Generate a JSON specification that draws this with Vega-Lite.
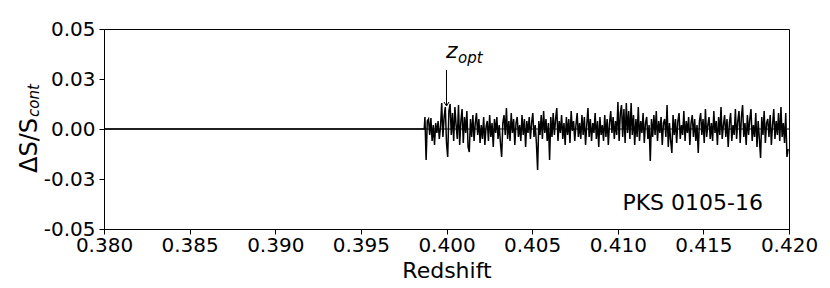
{
  "$schema": "https://vega.github.io/schema/vega-lite/v6.json",
  "width": 685,
  "height": 200,
  "autosize": {"type": "none"},
  "padding": {"left": 104, "top": 29, "right": 41, "bottom": 59},
  "background": "white",
  "config": {
    "view": {"stroke": "black", "strokeWidth": 1},
    "font": "DejaVu Sans",
    "axis": {"grid": false, "domainColor": "black", "tickColor": "black", "labelColor": "black", "titleColor": "black", "labelFont": "DejaVu Sans", "titleFont": "DejaVu Sans", "labelFontSize": 20, "tickSize": 5, "titleFontWeight": "normal", "labelFlush": false, "labelOverlap": false, "labelBound": false}
  },
  "datasets": {
    "spec": [
      {"x":0.38,"y":0},{"x":0.39870,"y":0},
      {"x":0.39874,"y":0.006},{"x":0.39881,"y":-0.0155},{"x":0.39888,"y":0.004},{"x":0.39895,"y":0.005},{"x":0.39902,"y":-0.003},{"x":0.39909,"y":0.0055},{"x":0.39916,"y":-0.006},{"x":0.39923,"y":0.002},{"x":0.39930,"y":-0.008},{"x":0.39937,"y":0.003},
      {"x":0.39944,"y":-0.002},{"x":0.39951,"y":0.004},{"x":0.39958,"y":-0.005},{"x":0.39965,"y":0.001},{"x":0.39972,"y":0.013},{"x":0.39979,"y":-0.004},{"x":0.39986,"y":0.006},{"x":0.39993,"y":0.011},{"x":0.40000,"y":-0.007},{"x":0.40007,"y":-0.014},
      {"x":0.40014,"y":0.009},{"x":0.40021,"y":0.0125},{"x":0.40028,"y":-0.003},{"x":0.40035,"y":0.008},{"x":0.40042,"y":-0.006},{"x":0.40049,"y":0.011},{"x":0.40056,"y":0.002},{"x":0.40063,"y":-0.005},{"x":0.40070,"y":0.012},{"x":0.40077,"y":-0.008},
      {"x":0.40084,"y":0.004},{"x":0.40091,"y":0.010},{"x":0.40098,"y":-0.007},{"x":0.40105,"y":0.006},{"x":0.40112,"y":-0.002},{"x":0.40119,"y":0.009},{"x":0.40126,"y":-0.009},{"x":0.40133,"y":-0.0115},{"x":0.40140,"y":0.005},{"x":0.40147,"y":-0.004},
      {"x":0.40154,"y":0.007},{"x":0.40161,"y":-0.006},{"x":0.40168,"y":0.003},{"x":0.40175,"y":0.008},{"x":0.40182,"y":-0.003},{"x":0.40189,"y":0.005},{"x":0.40196,"y":-0.007},{"x":0.40203,"y":0.002},{"x":0.40210,"y":-0.005},{"x":0.40217,"y":0.006},
      {"x":0.40224,"y":-0.008},{"x":0.40231,"y":0.001},{"x":0.40238,"y":0.004},{"x":0.40245,"y":-0.006},{"x":0.40252,"y":0.007},{"x":0.40259,"y":-0.004},{"x":0.40266,"y":0.003},{"x":0.40273,"y":-0.009},{"x":0.40280,"y":0.005},{"x":0.40287,"y":-0.002},
      {"x":0.40294,"y":0.006},{"x":0.40301,"y":-0.005},{"x":0.40308,"y":0.002},{"x":0.40315,"y":-0.007},{"x":0.40322,"y":-0.014},{"x":0.40329,"y":0.003},{"x":0.40336,"y":0.007},{"x":0.40343,"y":-0.003},{"x":0.40350,"y":0.0105},{"x":0.40357,"y":-0.005},
      {"x":0.40364,"y":0.004},{"x":0.40371,"y":-0.006},{"x":0.40378,"y":0.008},{"x":0.40385,"y":-0.002},{"x":0.40392,"y":0.005},{"x":0.40399,"y":-0.008},{"x":0.40406,"y":0.003},{"x":0.40413,"y":0.006},{"x":0.40420,"y":-0.004},{"x":0.40427,"y":0.002},
      {"x":0.40434,"y":-0.006},{"x":0.40441,"y":0.007},{"x":0.40448,"y":-0.003},{"x":0.40455,"y":0.005},{"x":0.40462,"y":-0.009},{"x":0.40469,"y":0.004},{"x":0.40476,"y":-0.002},{"x":0.40483,"y":0.006},{"x":0.40490,"y":-0.005},{"x":0.40497,"y":0.003},
      {"x":0.40504,"y":0.008},{"x":0.40511,"y":-0.004},{"x":0.40518,"y":0.002},{"x":0.40525,"y":-0.007},{"x":0.40532,"y":-0.0205},{"x":0.40539,"y":0.004},{"x":0.40546,"y":-0.003},{"x":0.40553,"y":0.007},{"x":0.40560,"y":-0.005},{"x":0.40567,"y":0.009},
      {"x":0.40574,"y":-0.002},{"x":0.40581,"y":0.005},{"x":0.40588,"y":-0.006},{"x":0.40595,"y":0.003},{"x":0.40602,"y":-0.0155},{"x":0.40609,"y":0.006},{"x":0.40616,"y":-0.004},{"x":0.40623,"y":0.008},{"x":0.40630,"y":-0.003},{"x":0.40637,"y":0.005},
      {"x":0.40644,"y":0.0105},{"x":0.40651,"y":-0.006},{"x":0.40658,"y":0.004},{"x":0.40665,"y":-0.002},{"x":0.40672,"y":0.007},{"x":0.40679,"y":-0.005},{"x":0.40686,"y":0.003},{"x":0.40693,"y":-0.008},{"x":0.40700,"y":0.006},{"x":0.40707,"y":-0.003},
      {"x":0.40714,"y":0.005},{"x":0.40721,"y":-0.007},{"x":0.40728,"y":0.009},{"x":0.40735,"y":-0.001},{"x":0.40742,"y":0.004},{"x":0.40749,"y":-0.006},{"x":0.40756,"y":0.002},{"x":0.40763,"y":0.008},{"x":0.40770,"y":-0.004},{"x":0.40777,"y":0.003},
      {"x":0.40784,"y":-0.005},{"x":0.40791,"y":0.007},{"x":0.40798,"y":-0.003},{"x":0.40805,"y":0.006},{"x":0.40812,"y":-0.008},{"x":0.40819,"y":0.002},{"x":0.40826,"y":0.0105},{"x":0.40833,"y":-0.004},{"x":0.40840,"y":0.005},{"x":0.40847,"y":-0.006},
      {"x":0.40854,"y":0.003},{"x":0.40861,"y":-0.002},{"x":0.40868,"y":0.008},{"x":0.40875,"y":-0.005},{"x":0.40882,"y":0.004},{"x":0.40889,"y":-0.009},{"x":0.40896,"y":0.006},{"x":0.40903,"y":-0.003},{"x":0.40910,"y":0.002},{"x":0.40917,"y":-0.006},
      {"x":0.40924,"y":0.007},{"x":0.40931,"y":-0.004},{"x":0.40938,"y":0.005},{"x":0.40945,"y":-0.008},{"x":0.40952,"y":0.003},{"x":0.40959,"y":0.009},{"x":0.40966,"y":-0.002},{"x":0.40973,"y":0.006},{"x":0.40980,"y":-0.005},{"x":0.40987,"y":0.004},
      {"x":0.40994,"y":-0.003},{"x":0.41001,"y":0.0135},{"x":0.41008,"y":-0.006},{"x":0.41015,"y":0.008},{"x":0.41022,"y":0.012},{"x":0.41029,"y":-0.004},{"x":0.41036,"y":0.010},{"x":0.41043,"y":-0.007},{"x":0.41050,"y":0.013},{"x":0.41057,"y":-0.002},
      {"x":0.41064,"y":0.009},{"x":0.41071,"y":-0.005},{"x":0.41078,"y":0.013},{"x":0.41085,"y":-0.003},{"x":0.41092,"y":0.007},{"x":0.41099,"y":-0.008},{"x":0.41106,"y":0.005},{"x":0.41113,"y":-0.004},{"x":0.41120,"y":0.011},{"x":0.41127,"y":-0.006},
      {"x":0.41134,"y":0.004},{"x":0.41141,"y":-0.002},{"x":0.41148,"y":0.008},{"x":0.41155,"y":-0.007},{"x":0.41162,"y":0.003},{"x":0.41169,"y":0.006},{"x":0.41176,"y":-0.005},{"x":0.41183,"y":0.002},{"x":0.41190,"y":-0.016},{"x":0.41197,"y":0.005},
      {"x":0.41204,"y":-0.004},{"x":0.41211,"y":0.007},{"x":0.41218,"y":-0.003},{"x":0.41225,"y":0.009},{"x":0.41232,"y":-0.006},{"x":0.41239,"y":0.004},{"x":0.41246,"y":-0.002},{"x":0.41253,"y":0.006},{"x":0.41260,"y":-0.008},{"x":0.41267,"y":0.003},
      {"x":0.41274,"y":0.005},{"x":0.41281,"y":-0.004},{"x":0.41288,"y":0.012},{"x":0.41295,"y":-0.009},{"x":0.41302,"y":0.003},{"x":0.41309,"y":-0.006},{"x":0.41316,"y":-0.012},{"x":0.41323,"y":0.007},{"x":0.41330,"y":-0.003},{"x":0.41337,"y":0.005},
      {"x":0.41344,"y":-0.007},{"x":0.41351,"y":0.004},{"x":0.41358,"y":0.008},{"x":0.41365,"y":-0.005},{"x":0.41372,"y":0.002},{"x":0.41379,"y":-0.003},{"x":0.41386,"y":0.009},{"x":0.41393,"y":-0.006},{"x":0.41400,"y":0.004},{"x":0.41407,"y":-0.002},
      {"x":0.41414,"y":0.006},{"x":0.41421,"y":-0.008},{"x":0.41428,"y":0.003},{"x":0.41435,"y":0.007},{"x":0.41442,"y":-0.004},{"x":0.41449,"y":0.005},{"x":0.41456,"y":-0.006},{"x":0.41463,"y":0.002},{"x":0.41470,"y":-0.012},{"x":0.41477,"y":0.004},
      {"x":0.41484,"y":0.008},{"x":0.41491,"y":-0.003},{"x":0.41498,"y":0.005},{"x":0.41505,"y":-0.007},{"x":0.41512,"y":0.010},{"x":0.41519,"y":-0.004},{"x":0.41526,"y":0.002},{"x":0.41533,"y":0.006},{"x":0.41540,"y":-0.005},{"x":0.41547,"y":0.003},
      {"x":0.41554,"y":-0.006},{"x":0.41561,"y":0.009},{"x":0.41568,"y":-0.002},{"x":0.41575,"y":0.004},{"x":0.41582,"y":-0.008},{"x":0.41589,"y":0.006},{"x":0.41596,"y":-0.003},{"x":0.41603,"y":0.011},{"x":0.41610,"y":-0.005},{"x":0.41617,"y":0.002},
      {"x":0.41624,"y":0.007},{"x":0.41631,"y":-0.004},{"x":0.41638,"y":0.005},{"x":0.41645,"y":-0.009},{"x":0.41652,"y":0.003},{"x":0.41659,"y":0.008},{"x":0.41666,"y":-0.006},{"x":0.41673,"y":0.002},{"x":0.41680,"y":-0.003},{"x":0.41687,"y":0.010},
      {"x":0.41694,"y":-0.005},{"x":0.41701,"y":0.004},{"x":0.41708,"y":0.009},{"x":0.41715,"y":-0.007},{"x":0.41722,"y":0.006},{"x":0.41729,"y":0.012},{"x":0.41736,"y":-0.004},{"x":0.41743,"y":0.003},{"x":0.41750,"y":-0.008},{"x":0.41757,"y":0.007},
      {"x":0.41764,"y":-0.003},{"x":0.41771,"y":0.005},{"x":0.41778,"y":0.010},{"x":0.41785,"y":-0.006},{"x":0.41792,"y":0.002},{"x":0.41799,"y":-0.004},{"x":0.41806,"y":0.008},{"x":0.41813,"y":-0.009},{"x":0.41820,"y":0.004},{"x":0.41827,"y":-0.005},
      {"x":0.41834,"y":-0.0145},{"x":0.41841,"y":0.006},{"x":0.41848,"y":-0.003},{"x":0.41855,"y":0.009},{"x":0.41862,"y":-0.007},{"x":0.41869,"y":0.003},{"x":0.41876,"y":0.005},{"x":0.41883,"y":-0.004},{"x":0.41890,"y":0.007},{"x":0.41897,"y":-0.008},
      {"x":0.41904,"y":0.002},{"x":0.41911,"y":0.010},{"x":0.41918,"y":-0.005},{"x":0.41925,"y":0.004},{"x":0.41932,"y":-0.003},{"x":0.41939,"y":0.008},{"x":0.41946,"y":-0.006},{"x":0.41953,"y":0.011},{"x":0.41960,"y":-0.004},{"x":0.41967,"y":0.003},
      {"x":0.41974,"y":-0.007},{"x":0.41981,"y":0.008},{"x":0.41988,"y":-0.014},{"x":0.41995,"y":-0.010}
    ]
  },
  "layer": [
    {
      "data": {"values": [{"y": 0}]},
      "mark": {"type": "rule", "color": "black", "strokeWidth": 1},
      "encoding": {"y": {"field": "y", "type": "quantitative", "scale": {"domain": [-0.05, 0.05], "nice": false, "zero": false}}}
    },
    {
      "data": {"name": "spec"},
      "mark": {"type": "line", "color": "black", "strokeWidth": 1.5, "clip": true},
      "encoding": {
        "x": {"field": "x", "type": "quantitative", "sort": null,
          "scale": {"domain": [0.38, 0.42], "nice": false, "zero": false},
          "axis": {"title": "Redshift", "values": [0.38, 0.385, 0.39, 0.395, 0.4, 0.405, 0.41, 0.415, 0.42], "format": ".3f", "labelPadding": 1, "titleFontSize": 22, "titlePadding": 5}},
        "y": {"field": "y", "type": "quantitative",
          "scale": {"domain": [-0.05, 0.05], "nice": false, "zero": false},
          "axis": {"title": null, "values": [-0.05, -0.025, 0, 0.025, 0.05], "labelExpr": "replace(format(datum.value, '.2f'), '\u2212', '-')", "labelPadding": 4}}
      }
    },
    {
      "data": {"values": [{"x": 0.4, "y": 0.0295, "y2": 0.0115}]},
      "mark": {"type": "rule", "color": "black", "strokeWidth": 1},
      "encoding": {
        "x": {"field": "x", "type": "quantitative", "scale": {"domain": [0.38, 0.42]}},
        "y": {"field": "y", "type": "quantitative", "scale": {"domain": [-0.05, 0.05]}},
        "y2": {"field": "y2"}
      }
    },
    {
      "data": {"values": [{"x": 0.4, "y": 0.0115}]},
      "mark": {"type": "point", "shape": "M-1,-1.6L0,0L1,-1.6", "size": 25, "filled": false, "stroke": "black", "strokeWidth": 1, "opacity": 1},
      "encoding": {
        "x": {"field": "x", "type": "quantitative", "scale": {"domain": [0.38, 0.42]}},
        "y": {"field": "y", "type": "quantitative", "scale": {"domain": [-0.05, 0.05]}}
      }
    },
    {
      "data": {"values": [{"x": 0.39997, "y": 0.0355, "t": "z"}]},
      "mark": {"type": "text", "align": "left", "baseline": "alphabetic", "fontSize": 22, "fontStyle": "italic", "font": "DejaVu Sans", "color": "black"},
      "encoding": {
        "x": {"field": "x", "type": "quantitative", "scale": {"domain": [0.38, 0.42]}},
        "y": {"field": "y", "type": "quantitative", "scale": {"domain": [-0.05, 0.05]}},
        "text": {"field": "t"}
      }
    },
    {
      "data": {"values": [{"x": 0.40067, "y": 0.033, "t": "opt"}]},
      "mark": {"type": "text", "align": "left", "baseline": "alphabetic", "fontSize": 15, "fontStyle": "italic", "font": "DejaVu Sans", "color": "black"},
      "encoding": {
        "x": {"field": "x", "type": "quantitative", "scale": {"domain": [0.38, 0.42]}},
        "y": {"field": "y", "type": "quantitative", "scale": {"domain": [-0.05, 0.05]}},
        "text": {"field": "t"}
      }
    },
    {
      "data": {"values": [{"x": 0.41848, "y": -0.0405, "t": "PKS 0105-16"}]},
      "mark": {"type": "text", "align": "right", "baseline": "alphabetic", "fontSize": 22, "font": "DejaVu Sans", "color": "black"},
      "encoding": {
        "x": {"field": "x", "type": "quantitative", "scale": {"domain": [0.38, 0.42]}},
        "y": {"field": "y", "type": "quantitative", "scale": {"domain": [-0.05, 0.05]}},
        "text": {"field": "t"}
      }
    },
    {
      "data": {"values": [{"x": 0.376088, "y": -0.022, "t": "ΔS/S"}]},
      "mark": {"type": "text", "align": "left", "baseline": "alphabetic", "angle": 270, "fontSize": 24, "font": "DejaVu Sans", "color": "black"},
      "encoding": {
        "x": {"field": "x", "type": "quantitative", "scale": {"domain": [0.38, 0.42]}},
        "y": {"field": "y", "type": "quantitative", "scale": {"domain": [-0.05, 0.05]}},
        "text": {"field": "t"}
      }
    },
    {
      "data": {"values": [{"x": 0.376204, "y": 0.006, "t": "cont"}]},
      "mark": {"type": "text", "align": "left", "baseline": "alphabetic", "angle": 270, "fontSize": 15, "fontStyle": "italic", "font": "DejaVu Sans", "color": "black"},
      "encoding": {
        "x": {"field": "x", "type": "quantitative", "scale": {"domain": [0.38, 0.42]}},
        "y": {"field": "y", "type": "quantitative", "scale": {"domain": [-0.05, 0.05]}},
        "text": {"field": "t"}
      }
    }
  ]
}
